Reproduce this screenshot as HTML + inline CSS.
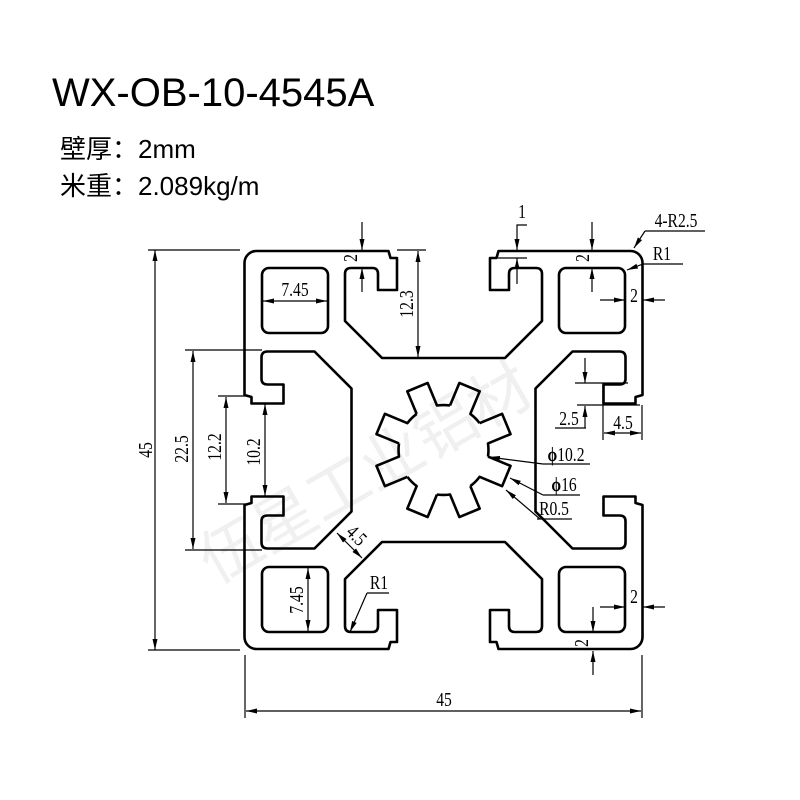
<!DOCTYPE html>
<html><head><meta charset="utf-8"><style>
body{margin:0;background:#fff;width:800px;height:800px;overflow:hidden}
svg{display:block}
.d{stroke:#000;stroke-width:1.2;fill:none}
.a{stroke:#000;stroke-width:1.2;fill:none;marker-end:url(#ar)}
.b{stroke:#000;stroke-width:1.2;fill:none;marker-start:url(#ar);marker-end:url(#ar)}
.t{font-family:"Liberation Serif",serif;font-size:20px;fill:#000}
</style></head><body>
<svg width="800" height="800" viewBox="0 0 800 800" xmlns="http://www.w3.org/2000/svg">
<defs>
<marker id="ar" markerUnits="userSpaceOnUse" markerWidth="12" markerHeight="6" refX="11" refY="3" orient="auto-start-reverse"><path d="M0,0.5 L11,3 L0,5.5 z" fill="#000"/></marker>
<path id="q" d="M0,-92 L-61.5,-92 L-98.5,-129 L-98.5,-176 Q-98.5,-182 -92.5,-182 L-71,-182 Q-65.5,-182 -65.5,-176 L-65.5,-160 L-46.5,-160 L-46.5,-192 L-53,-192 L-55,-199 L-187,-199 A12,12 0 0 0 -199,-187 L-199,-55 L-192,-53 L-192,-46.5 L-160,-46.5 L-160,-65.5 L-176,-65.5 Q-182,-65.5 -182,-71 L-182,-92.5 Q-182,-98.5 -176,-98.5 L-129,-98.5 L-92,-61.5 L-92,0"/>
<path id="tooth" d="M43.6,-11 L68,-11 L68,11 L43.6,11 A45,45 0 0 1 38.61,23.05"/>
</defs>
<text x="52" y="106" font-family="'Liberation Sans',sans-serif" font-size="40">WX-OB-10-4545A</text>
<text x="60" y="158" font-family="'Liberation Sans','Noto Sans CJK SC',sans-serif" font-size="26">壁厚：2mm</text>
<text x="60" y="195" font-family="'Liberation Sans','Noto Sans CJK SC',sans-serif" font-size="26">米重：2.089kg/m</text>
<text transform="translate(215,585) rotate(-30)" font-family="'Noto Sans CJK SC',sans-serif" font-size="62" fill="#f0f0f0">伍星工业铝材</text>
<g transform="translate(443.5,450)" stroke="#000" stroke-width="2.6" fill="none" stroke-linejoin="round">
<use href="#q"/><use href="#q" transform="scale(-1,1)"/><use href="#q" transform="scale(1,-1)"/><use href="#q" transform="scale(-1,-1)"/>
<rect x="-181.5" y="-182" width="66" height="65" rx="7"/><rect x="115.5" y="-182" width="66" height="65" rx="7"/>
<rect x="-181.5" y="117" width="66" height="65" rx="7"/><rect x="115.5" y="117" width="66" height="65" rx="7"/>
<use href="#tooth" transform="rotate(22.5)"/><use href="#tooth" transform="rotate(67.5)"/><use href="#tooth" transform="rotate(112.5)"/><use href="#tooth" transform="rotate(157.5)"/>
<use href="#tooth" transform="rotate(202.5)"/><use href="#tooth" transform="rotate(247.5)"/><use href="#tooth" transform="rotate(292.5)"/><use href="#tooth" transform="rotate(337.5)"/>
</g>
<!-- 45 vertical -->
<path class="d" d="M148,250H240M148,650H240"/><path class="b" d="M155,250V650"/>
<text class="t" transform="translate(152,450) rotate(-90) scale(0.78,1)" text-anchor="middle">45</text>
<!-- 22.5 -->
<path class="d" d="M185,350H262M185,550H262"/><path class="b" d="M193,351V549"/>
<text class="t" transform="translate(188,449) rotate(-90) scale(0.78,1)" text-anchor="middle">22.5</text>
<!-- 12.2 -->
<path class="d" d="M218,396H250M218,504H250"/><path class="b" d="M226,397V503"/>
<text class="t" transform="translate(221,447) rotate(-90) scale(0.78,1)" text-anchor="middle">12.2</text>
<!-- 10.2 -->
<path class="b" d="M265,404V496"/>
<text class="t" transform="translate(260,452) rotate(-90) scale(0.78,1)" text-anchor="middle">10.2</text>
<!-- 12.3 -->
<path class="d" d="M397,250H426"/><path class="b" d="M418,251V357"/>
<text class="t" transform="translate(413,304) rotate(-90) scale(0.78,1)" text-anchor="middle">12.3</text>
<!-- 2 top-left -->
<path class="a" d="M362,222V250"/><path class="a" d="M362,292V268"/>
<text class="t" transform="translate(357,258) rotate(-90) scale(0.78,1)" text-anchor="middle">2</text>
<!-- 7.45 -->
<path class="b" d="M263,301H327"/><text class="t" transform="translate(295,296) scale(0.78,1)" text-anchor="middle">7.45</text>
<path class="b" d="M308,568V631"/><text class="t" transform="translate(303,600) rotate(-90) scale(0.78,1)" text-anchor="middle">7.45</text>
<!-- 45 bottom -->
<path class="d" d="M245,655V718M642,655V718"/><path class="b" d="M246,711H641"/>
<text class="t" transform="translate(444,706) scale(0.78,1)" text-anchor="middle">45</text>
<!-- 1 -->
<path class="a" d="M527,225H517V250"/><path class="a" d="M517,284V258"/><path class="d" d="M498,258H527"/>
<text class="t" transform="translate(522,218) scale(0.78,1)" text-anchor="middle">1</text>
<!-- 2 top-right -->
<path class="a" d="M592,222V250"/><path class="a" d="M592,292V268"/>
<text class="t" transform="translate(589,258) rotate(-90) scale(0.78,1)" text-anchor="middle">2</text>
<path class="a" d="M600,300H625"/><path class="a" d="M665,300H643"/>
<text class="t" transform="translate(634,302) scale(0.78,1)" text-anchor="middle">2</text>
<!-- 4-R2.5 / R1 -->
<path class="d" d="M645,231H705"/><path class="a" d="M645,231L634,248"/>
<text class="t" transform="translate(676,227) scale(0.78,1)" text-anchor="middle">4-R2.5</text>
<path class="d" d="M643,264H683"/><path class="a" d="M643,264L627,270"/>
<text class="t" transform="translate(662,260) scale(0.78,1)" text-anchor="middle">R1</text>
<!-- 2.5 / 4.5 right -->
<path class="d" d="M575,383H628M577,405H640M603,383V440M642,405V440M555,428H586"/>
<path class="a" d="M585,358V383"/><path class="a" d="M585,428V406"/>
<text class="t" transform="translate(569,425) scale(0.78,1)" text-anchor="middle">2.5</text>
<path class="b" d="M604,433H641"/><text class="t" transform="translate(623,429) scale(0.78,1)" text-anchor="middle">4.5</text>
<!-- phi -->
<path class="d" d="M543,464H590"/><path class="a" d="M543,464L489,457"/>
<text class="t" transform="translate(566,461) scale(0.78,1)" text-anchor="middle" font-weight="bold">ϕ<tspan font-weight="normal">10.2</tspan></text>
<path class="d" d="M543,495H580"/><path class="a" d="M543,495L510,478"/>
<text class="t" transform="translate(564,491) scale(0.78,1)" text-anchor="middle" font-weight="bold">ϕ<tspan font-weight="normal">16</tspan></text>
<path class="d" d="M537,519H572"/><path class="a" d="M540,519L506,490"/>
<text class="t" transform="translate(554,515) scale(0.78,1)" text-anchor="middle">R0.5</text>
<!-- 4.5 diag -->
<path class="b" d="M337,533L362,558"/>
<text class="t" transform="translate(352,540) rotate(45) scale(0.78,1)" text-anchor="middle">4.5</text>
<!-- R1 bottom -->
<path class="d" d="M367,593H389"/><path class="a" d="M367,593L350,632"/>
<text class="t" transform="translate(379,589) scale(0.78,1)" text-anchor="middle">R1</text>
<!-- 2 bottom-right -->
<path class="a" d="M600,607H625"/><path class="a" d="M665,607H643"/>
<text class="t" transform="translate(634,603) scale(0.78,1)" text-anchor="middle">2</text>
<path class="a" d="M593,607V632"/><path class="a" d="M593,675V651"/>
<text class="t" transform="translate(588,643) rotate(-90) scale(0.78,1)" text-anchor="middle">2</text>
</svg>
</body></html>
